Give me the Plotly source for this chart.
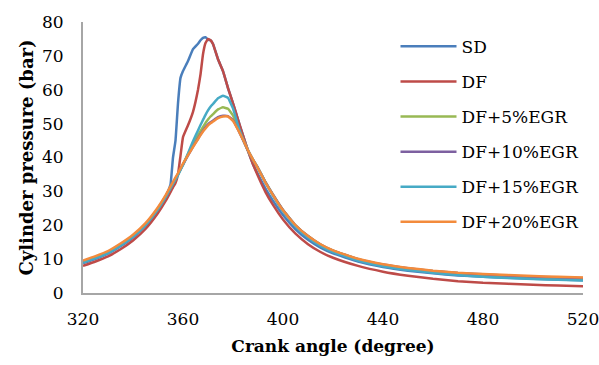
import plotly.graph_objects as go

crank = [320, 325, 330, 335, 340, 345, 350, 353, 355, 356, 357, 358, 359, 360, 362, 364,
         366, 367, 368, 369, 370, 371, 372, 374, 376, 378, 380, 382, 384, 386, 388, 390,
         393, 396, 400, 405, 410, 415, 420, 430, 440, 450, 460, 470, 480, 490, 500, 510, 520]

sd = [8.8, 10.1, 11.6, 13.8, 16.4, 19.8, 24.5, 28.0, 32.0, 40.0, 45.0, 56.0, 63.5, 65.5, 68.5, 72.0,
      73.6, 74.6, 75.3, 75.5, 74.8, 74.6, 73.5, 69.0, 65.5, 60.5, 56.0, 51.2, 46.5, 42.0, 38.0, 35.0,
      30.8, 27.2, 23.0, 18.8, 15.7, 13.4, 11.7, 9.3, 7.7, 6.6, 5.8, 5.2, 4.8, 4.5, 4.2, 4.0, 3.8]

df = [8.0, 9.3, 10.8, 12.9, 15.5, 18.9, 23.6, 27.1, 29.8, 31.2, 32.5, 35.0, 40.5, 46.0, 49.5, 53.5,
      60.0, 64.5, 70.5, 73.8, 75.0, 74.6, 73.5, 69.0, 65.5, 60.5, 56.0, 51.2, 46.5, 42.0, 38.0, 34.5,
      29.8, 26.0, 21.7, 17.5, 14.4, 12.1, 10.4, 8.0, 6.3, 5.1, 4.2, 3.5, 3.0, 2.7, 2.4, 2.2, 2.0]

egr5 = [9.2, 10.5, 12.0, 14.2, 16.8, 20.2, 24.9, 28.4, 31.1, 32.4, 33.7, 35.0, 36.5, 38.0, 41.0, 44.0,
        46.6, 47.8, 49.0, 50.2, 51.2, 52.1, 52.8, 54.2, 54.8, 54.4, 52.4, 48.8, 45.3, 42.0, 39.3, 36.9,
        32.7, 29.0, 24.5, 20.0, 16.8, 14.3, 12.5, 10.0, 8.3, 7.2, 6.4, 5.8, 5.4, 5.0, 4.7, 4.5, 4.3]

egr10 = [9.3, 10.6, 12.1, 14.3, 16.9, 20.3, 25.0, 28.5, 31.2, 32.5, 33.8, 35.1, 36.5, 37.9, 40.6, 43.2,
         45.6, 46.8, 47.9, 48.9, 49.8, 50.4, 50.9, 51.9, 52.3, 52.2, 51.0, 48.3, 45.2, 42.0, 39.3, 36.9,
         32.7, 29.0, 24.5, 20.0, 16.8, 14.3, 12.5, 10.0, 8.4, 7.3, 6.5, 5.9, 5.5, 5.1, 4.8, 4.6, 4.4]

egr15 = [9.0, 10.3, 11.8, 14.0, 16.6, 20.0, 24.7, 28.2, 30.9, 32.2, 33.5, 34.8, 36.3, 37.8, 41.2, 44.8,
         48.0, 49.6, 51.1, 52.6, 53.9, 55.0, 55.8, 57.5, 58.2, 57.6, 54.5, 49.5, 45.5, 42.2, 39.4, 36.8,
         32.6, 28.7, 24.1, 19.6, 16.4, 13.9, 12.1, 9.6, 7.9, 6.8, 6.0, 5.3, 4.8, 4.4, 4.1, 3.9, 3.7]

egr20 = [9.6, 10.9, 12.4, 14.6, 17.2, 20.6, 25.3, 28.8, 31.5, 32.8, 34.1, 35.4, 36.8, 38.2, 40.7, 43.1,
         45.4, 46.6, 47.7, 48.6, 49.5, 50.1, 50.6, 51.6, 52.1, 52.1, 50.8, 48.2, 45.3, 42.1, 39.4, 36.8,
         32.6, 28.9, 24.4, 20.0, 16.8, 14.4, 12.6, 10.1, 8.5, 7.4, 6.6, 6.0, 5.6, 5.3, 5.0, 4.8, 4.6]

names = ["SD", "DF", "DF+5%EGR", "DF+10%EGR", "DF+15%EGR", "DF+20%EGR"]
series = [sd, df, egr5, egr10, egr15, egr20]
colors = ["#4A7EBB", "#BE4B48", "#98B954", "#7D60A0", "#46AAC5", "#F38B3C"]

x_ticks = [320, 360, 400, 440, 480, 520]
y_ticks = [0, 10, 20, 30, 40, 50, 60, 70, 80]

FONT = "DejaVu Serif"

fig = go.Figure()
for i, (n, s, c) in enumerate(zip(names, series, colors)):
    fig.add_trace(go.Scatter(x=crank, y=s, name=n, mode="lines",
                             line=dict(color=c, width=2.5, shape="spline", smoothing=0.3),
                             legendgroup=f"g{i}"))

fig.update_layout(
    width=599, height=365,
    margin=dict(l=83, r=16, t=22, b=72),
    paper_bgcolor="white", plot_bgcolor="white",
    font=dict(family=FONT, size=16, color="#000000"),
    showlegend=True,
    legend=dict(x=0.625, y=0.975, xanchor="left", yanchor="top",
                font=dict(family=FONT, size=17, color="#000000"),
                tracegroupgap=10, itemwidth=56, bgcolor="rgba(0,0,0,0)"),
    xaxis=dict(range=[320, 520], tickvals=x_ticks, ticktext=[str(v) for v in x_ticks],
               showgrid=False, zeroline=False, showline=True, linecolor="#A6A6A6", linewidth=2,
               ticks="", ticklabelstandoff=10, ticklabeloverflow="allow", automargin=False,
               tickfont=dict(family=FONT, size=17, color="#000000"),
               title=dict(text="<b>Crank angle (degree)</b>", standoff=12,
                          font=dict(family=FONT, size=17, color="#000000"))),
    yaxis=dict(range=[0, 80], tickvals=y_ticks, ticktext=[str(v) for v in y_ticks],
               showgrid=False, zeroline=False, showline=True, linecolor="#A6A6A6", linewidth=2,
               ticks="", ticklabelstandoff=14, automargin=False,
               tickfont=dict(family=FONT, size=17, color="#000000"),
               title=dict(text="<b>Cylinder pressure (bar)</b>", standoff=4,
                          font=dict(family=FONT, size=18, color="#000000"))),
)

fig.write_html("out.html")
